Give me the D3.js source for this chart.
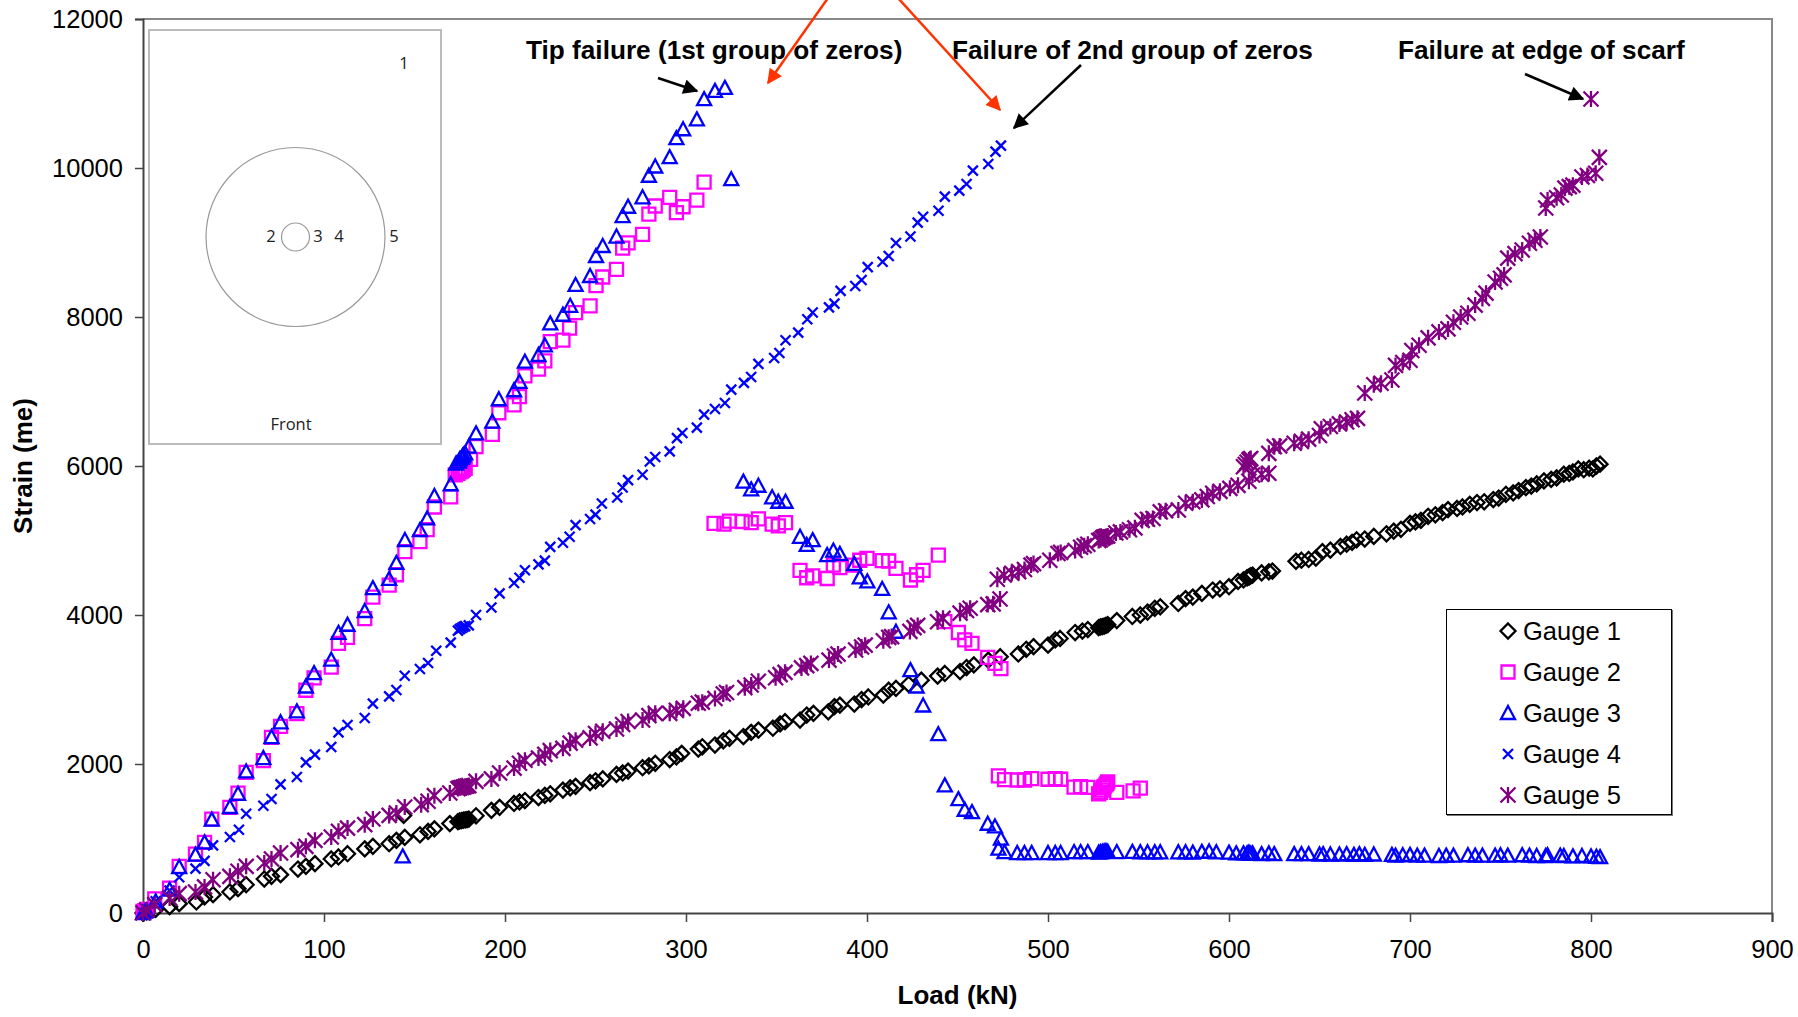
<!DOCTYPE html>
<html>
<head>
<meta charset="utf-8">
<script src="https://cdn.jsdelivr.net/npm/d3@7"></script>
<style>
  html, body { margin: 0; padding: 0; background: #fff; }
  svg { display: block; font-family: "Liberation Sans", Arial, sans-serif; }
</style>
</head>
<body>
<script>
const w = 1798;
const h = 1017;

const xTicks = [0, 100, 200, 300, 400, 500, 600, 700, 800, 900];
const yTicks = [0, 2000, 4000, 6000, 8000, 10000, 12000];
const seriesNames = ["Gauge 1", "Gauge 2", "Gauge 3", "Gauge 4", "Gauge 5"];
const notes = ["Tip failure (1st group of zeros)", "Failure of 2nd group of zeros", "Failure at edge of scarf"];

// [load kN, strain]
const gauge1 = [[0,0],[2,15],[7,50],[14.7,85],[20,125],[29.5,148],[34,215],[38.7,246],[48,282],[52.5,327],[57,380],[67,456],[71,492],[76,515],[85.6,590],[90,626],[95,662],[104,725],[108,752],[113,796],[122.5,860],[127,895],[136,930],[140,975],[144.6,1015],[144,1310],[153,1050],[157.5,1095],[161,1130],[169.5,1200],[174,1225],[175,1235],[176,1240],[177,1245],[178,1250],[179,1255],[180,1260],[184,1305],[192.5,1378],[197,1418],[205,1470],[208,1490],[211,1510],[218.5,1550],[222,1580],[225,1600],[232,1650],[236,1680],[239,1700],[247,1750],[250,1775],[254,1800],[261.6,1860],[265,1880],[268,1905],[276,1950],[279.5,1975],[283,2010],[291,2060],[294.7,2095],[297.6,2143],[306.8,2200],[309,2231],[316,2255],[320.6,2312],[324,2345],[331.7,2367],[336,2425],[340,2455],[348,2480],[352,2537],[354.7,2568],[363,2590],[366.7,2657],[370.4,2680],[378.6,2700],[382,2770],[385,2790],[393,2805],[397,2865],[400.7,2900],[409,2925],[412,2990],[416,3015],[423,3070],[430,3125],[439,3180],[443,3215],[451.4,3240],[455,3295],[459,3330],[467,3395],[473.6,3440],[483.6,3477],[488,3540],[492,3575],[500,3595],[504,3665],[506.7,3685],[515,3765],[519,3785],[522,3805],[528,3830],[529,3840],[530,3845],[531,3850],[532,3860],[533,3870],[538,3925],[546.6,3980],[551,4000],[555,4040],[559,4090],[562,4110],[572,4155],[576,4220],[580,4240],[585,4290],[591,4335],[595,4350],[600,4380],[605,4450],[608,4470],[610,4500],[611,4510],[611.5,4520],[612,4525],[613,4535],[618,4565],[622,4580],[624,4590],[637,4720],[640,4735],[644,4745],[648,4765],[651.6,4850],[656,4870],[661.6,4920],[665,4950],[668,4975],[670.5,5010],[675,5020],[680,5055],[687,5090],[691,5125],[695,5150],[700,5230],[703,5250],[706,5270],[710,5325],[714,5345],[718,5375],[721,5415],[726,5430],[729,5450],[733,5485],[737,5510],[741,5520],[746,5550],[749,5570],[753,5620],[757,5640],[760,5670],[764,5710],[767,5730],[770,5760],[774,5800],[778,5820],[781,5840],[785,5890],[788,5900],[790,5920],[793,5960],[796,5950],[799,5970],[801,5960],[803,6000],[805,6025]];

const gauge2 = [[0,20],[1,30],[2,50],[6.5,190],[14.7,335],[20,626],[29,790],[34,948],[38,1260],[48,1418],[52.5,1610],[57,1888],[66.5,2045],[71,2358],[76,2505],[85,2675],[90,2990],[94.5,3155],[104,3300],[108,3620],[113,3700],[122.5,3950],[127,4240],[136,4400],[140,4540],[144.7,4850],[153,4984],[157,5147],[161,5450],[170,5585],[172.5,5880],[174,5900],[175,5920],[176,5930],[176.5,5945],[177,5955],[178,5970],[181,6090],[184,6260],[193,6425],[196.6,6715],[205,6820],[208,6930],[211,7210],[218.5,7300],[222,7410],[225,7670],[232,7690],[235.7,7850],[239,8060],[247,8150],[250.3,8420],[254,8537],[261.6,8640],[265,8925],[268,8995],[276,9110],[279.5,9380],[283,9490],[291,9607],[294.7,9400],[298.4,9480],[306,9570],[310,9810],[315.5,5230],[321,5220],[324,5260],[331,5255],[336,5240],[340,5290],[347.6,5220],[351,5195],[355,5240],[363,4600],[366.7,4500],[370,4525],[378,4490],[381.4,4670],[385,4635],[393,4670],[396,4735],[400,4760],[408.4,4730],[412,4725],[416,4625],[424,4470],[427.4,4540],[431,4600],[439.4,4805],[443,3910],[450.5,3765],[454,3665],[458,3620],[466.7,3430],[470.7,3350],[474,3280],[472.6,1840],[476,1790],[483,1785],[487,1785],[491,1805],[500,1795],[504,1805],[507,1795],[514.4,1690],[518,1695],[522,1685],[528,1600],[529,1620],[530,1650],[530.5,1680],[531,1700],[532,1720],[532.5,1740],[533,1760],[538,1620],[547,1640],[551,1675]];

const gauge3 = [[0,0],[1,20],[2,30],[7,157],[14.7,313],[20,617],[29,783],[34,948],[38,1253],[48,1423],[52.5,1600],[57,1900],[66.5,2080],[71,2362],[76,2560],[85,2707],[90,3040],[94.5,3220],[104,3400],[108,3761],[113,3869],[122.5,4054],[127,4361],[136,4484],[140,4700],[143.5,760],[144.7,5007],[153,5140],[157,5296],[161,5597],[170,5755],[173,6033],[174.5,6060],[175,6090],[176,6110],[176.5,6130],[177,6150],[178,6170],[180,6260],[184,6438],[193,6595],[196.6,6896],[205,7017],[208,7130],[211,7400],[218.5,7490],[222,7620],[225,7915],[232,8030],[236,8150],[239,8430],[247,8550],[250.3,8819],[254,8953],[261.6,9080],[265,9355],[268,9480],[276,9607],[279.5,9896],[283,10020],[291,10145],[294.7,10400],[298.4,10520],[306,10653],[310,10925],[316,11035],[321.5,11075],[325,9850],[331.7,5790],[336,5687],[340,5735],[347.6,5580],[351,5520],[355,5520],[363,5050],[366.7,4940],[370,5005],[378,4805],[381.4,4865],[385,4820],[393,4685],[396,4505],[400.2,4450],[408.4,4350],[412,4036],[416,3775],[424,3260],[427.4,3040],[431,2785],[439.4,2400],[443,1713],[450.5,1528],[454,1386],[458,1355],[466.7,1198],[470.7,1162],[474,997],[472.6,863],[476,818],[483,805],[487,805],[491,805],[500,805],[504,805],[507,805],[514.4,818],[518,818],[522,818],[528,810],[529,815],[530,820],[531,825],[532,830],[533,820],[538,818],[546.6,820],[551,815],[555,815],[559,815],[562,815],[572,815],[576,815],[580,810],[585,820],[589,825],[593,815],[600,810],[604,800],[608,800],[610,800],[611,810],[612,795],[613,800],[618,790],[622,800],[625,790],[636,790],[640,790],[644,790],[650,785],[652,790],[656,785],[661,785],[665,790],[669,780],[672,790],[675,780],[680,785],[690,780],[692,770],[696,775],[700,780],[704,770],[708,770],[716,765],[720,770],[724,770],[732,775],[736,770],[740,770],[747,770],[750,775],[754,770],[762,775],[766,770],[770,765],[775,765],[776,775],[783,770],[785,765],[790,760],[795,765],[800,760],[803,755],[805,750]];

const gauge4 = [[0,0],[2,40],[7,157],[14.7,300],[20,480],[29,595],[34,700],[38.7,908],[48,1020],[53,1118],[57,1333],[66.5,1440],[71,1530],[76,1727],[85,1825],[90,2022],[95,2125],[104,2228],[108,2425],[113,2523],[122.5,2617],[127,2810],[136,2908],[140,2993],[144.6,3185],[153,3275],[157.5,3355],[162,3520],[170,3630],[174,3790],[175,3810],[176,3825],[177,3840],[178,3850],[180,3860],[184,4000],[192.5,4100],[197,4290],[205,4430],[208,4500],[211,4600],[218.5,4680],[222,4730],[225,4915],[232,4970],[235.7,5050],[239,5207],[247,5288],[250,5347],[253.5,5497],[262,5578],[265,5712],[268,5810],[276,5882],[280,6060],[283,6120],[291,6197],[295,6375],[298,6443],[306,6515],[310,6690],[316,6765],[321.5,6845],[325,7025],[332,7115],[336,7195],[340,7370],[348.7,7450],[351.6,7517],[355,7688],[362,7790],[367,7970],[370,8060],[379,8130],[382,8180],[385.4,8350],[393.5,8416],[397,8497],[400.4,8670],[408.6,8742],[412,8819],[416,8993],[424,9080],[428,9266],[431,9346],[439.5,9427],[443,9615],[451,9696],[455,9785],[458.5,9964],[467,10053],[471,10220],[474,10300]];

const gauge5 = [[0,0],[2,40],[6.5,112],[14.7,200],[20,260],[29,282],[34,350],[38.7,447],[48,492],[52.5,560],[57,626],[67,671],[71,725],[76,805],[85.6,850],[90,895],[95,975],[104,1020],[108,1096],[113,1140],[122.5,1186],[127,1262],[136,1310],[140,1342],[144.6,1423],[153.7,1454],[157.5,1500],[161,1575],[169.5,1610],[174,1670],[175,1680],[176,1685],[177,1690],[178,1700],[179,1705],[180,1710],[184,1767],[192.5,1800],[197,1880],[205,1945],[208,2010],[211,2050],[218.5,2080],[222,2130],[225,2180],[232,2210],[236,2280],[239,2320],[247,2350],[250,2410],[254,2440],[261.6,2470],[265,2530],[268,2570],[276,2590],[279.5,2650],[283,2680],[291,2680],[294.7,2720],[298.5,2747],[306.8,2815],[309,2830],[316,2880],[320.6,2940],[322.4,2960],[332.5,3025],[336,3060],[340,3110],[349.5,3158],[352,3200],[354.7,3230],[363.8,3290],[366.7,3320],[369,3350],[379,3395],[382,3450],[384,3475],[393.7,3530],[397,3570],[399,3595],[409,3655],[412,3700],[413.6,3710],[423.7,3780],[426,3830],[428,3860],[439,3910],[442,3955],[451.4,4025],[455,4060],[457,4090],[466.7,4140],[469.7,4150],[473.5,4215],[472,4480],[475.8,4537],[480,4560],[483.8,4582],[487,4610],[490.6,4670],[492,4690],[501,4735],[505.5,4825],[507,4840],[515,4865],[518,4910],[520,4930],[522,4950],[528,5000],[529,5010],[530,5030],[530.5,5040],[531,5047],[532,5055],[533,5060],[537.5,5100],[540,5115],[545,5145],[548,5170],[552,5270],[555,5285],[558,5295],[562,5385],[565,5400],[572,5410],[576,5500],[580,5520],[585,5545],[588,5590],[591,5635],[595,5660],[600.5,5700],[605,5740],[611,5795],[613,5880],[618,5890],[622,5903],[608,5990],[609,6020],[610,6050],[611,6080],[611.5,6090],[612,6100],[622,6170],[625,6260],[628,6270],[636,6305],[640,6330],[644,6360],[650,6410],[651,6500],[656,6530],[661,6565],[665,6590],[668,6620],[671,6640],[675,6980],[680,7090],[684,7110],[690,7155],[692,7350],[696,7390],[700,7420],[701,7550],[705,7620],[710,7720],[716,7800],[721,7840],[724,7930],[728,8000],[732,8050],[736,8160],[740,8250],[742,8320],[747,8470],[750,8520],[752,8565],[754,8790],[758,8850],[762,8900],[766,8990],[769,9030],[772,9073],[775,9463],[776,9570],[781,9600],[783.6,9637],[785.6,9730],[788,9750],[790,9770],[795,9880],[798,9900],[800,10926],[802.6,9930],[804.6,10143]];

const allGauges = [gauge1, gauge2, gauge3, gauge4, gauge5];
const colors = ["#000000", "#ff00ff", "#0000ff", "#0000ff", "#800080"];
const markers = [
  "M0,-7.5L7.5,0L0,7.5L-7.5,0Z",
  "M-6.5,-6.5H6.5V6.5H-6.5Z",
  "M0,-7L7,6H-7Z",
  "M-5,-5L5,5M-5,5L5,-5",
  "M-7.5,-7.5L7.5,7.5M-7.5,7.5L7.5,-7.5M0,-8V8",
];

const plotLeft = 143, plotRight = 1772, plotTop = 19, plotBottom = 913;

const svg = d3.select("body").append("svg").attr("width", w).attr("height", h);

const xScale = d3.scaleLinear().domain([0, 900]).range([plotLeft, plotRight]);
const yScale = d3.scaleLinear().domain([0, 12000]).range([plotBottom, plotTop]);

// plot frame, top and right are the lighter ones
svg.append("path")
  .attr("d", `M${plotLeft},${plotTop}H${plotRight}V${plotBottom}`)
  .attr("fill", "none")
  .attr("stroke", "#888")
  .attr("stroke-width", 2);

/* Inset drawing */
const inset = svg.append("g");
inset.append("rect")
  .attr("x", 149).attr("y", 30).attr("width", 292).attr("height", 414)
  .attr("fill", "#fff").attr("stroke", "#bbb").attr("stroke-width", 2);
inset.append("circle").attr("cx", 295.5).attr("cy", 237).attr("r", 89.5)
  .attr("fill", "none").attr("stroke", "#999").attr("stroke-width", 1.2);
inset.append("circle").attr("cx", 295.5).attr("cy", 237).attr("r", 14)
  .attr("fill", "none").attr("stroke", "#999").attr("stroke-width", 1.2);
[["1", 404, 69], ["2", 271, 242], ["3", 318, 242], ["4", 339, 242], ["5", 394, 242], ["Front", 291, 430]].forEach((t) => {
  inset.append("text")
    .attr("x", t[1]).attr("y", t[2])
    .attr("text-anchor", "middle")
    .attr("font-family", "'Open Sans', 'Noto Sans', sans-serif")
    .attr("font-size", 16.5)
    .attr("fill", "#222")
    .text(t[0]);
});

/* Axes */
const xAxis = d3.axisBottom(xScale).tickValues(xTicks).tickSize(9).tickFormat(d3.format("d"));
const yAxis = d3.axisLeft(yScale).tickValues(yTicks).tickSize(8).tickFormat(d3.format("d"));

const gx = svg.append("g").attr("transform", `translate(0, ${plotBottom})`).call(xAxis);
const gy = svg.append("g").attr("transform", `translate(${plotLeft}, 0)`).call(yAxis);

[gx, gy].forEach((g) => {
  g.select(".domain").attr("stroke", "#444").attr("stroke-width", 2);
  g.selectAll(".tick line").attr("stroke", "#444").attr("stroke-width", 1.5);
  g.selectAll(".tick text")
    .attr("font-family", '"Liberation Sans", Arial, sans-serif')
    .attr("font-size", 25.5)
    .attr("fill", "#000");
});
gx.selectAll(".tick text").attr("y", 27);
gy.selectAll(".tick text").attr("x", -20);

svg.append("text")
  .attr("x", (plotLeft + plotRight) / 2).attr("y", 1004)
  .attr("text-anchor", "middle")
  .attr("font-size", 26).attr("font-weight", "bold")
  .text("Load (kN)");

svg.append("text")
  .attr("transform", `translate(32, ${(plotTop + plotBottom) / 2}) rotate(-90)`)
  .attr("text-anchor", "middle")
  .attr("font-size", 26).attr("font-weight", "bold")
  .text("Strain (me)");

/* Data */
allGauges.forEach((gauge, i) => {
  svg.append("g")
    .selectAll("path")
    .data(gauge)
    .join("path")
    .attr("d", markers[i])
    .attr("transform", (d) => `translate(${xScale(d[0])}, ${yScale(d[1])})`)
    .attr("fill", "none")
    .attr("stroke", colors[i])
    .attr("stroke-width", 2.3);
});

/* Notes and arrows */
const defs = svg.append("defs");
[["headBlack", "#000"], ["headRed", "#ff3300"]].forEach((m) => {
  defs.append("marker")
    .attr("id", m[0])
    .attr("viewBox", "0 0 10 10")
    .attr("refX", 9).attr("refY", 5)
    .attr("markerWidth", 17).attr("markerHeight", 15)
    .attr("markerUnits", "userSpaceOnUse")
    .attr("orient", "auto")
    .append("path").attr("d", "M0,0L10,5L0,10Z").attr("fill", m[1]);
});

[[526, 59], [952, 59], [1398, 59]].forEach((p, i) => {
  svg.append("text")
    .attr("x", p[0]).attr("y", p[1])
    .attr("font-size", 26.2).attr("font-weight", "bold")
    .text(notes[i]);
});

[
  [658, 78, 697, 91, "headBlack", "#000"],
  [1081, 65, 1014, 128, "headBlack", "#000"],
  [1525, 74, 1583, 99, "headBlack", "#000"],
  [828, -2, 768, 83, "headRed", "#ff3300"],
  [898, -2, 1000, 110, "headRed", "#ff3300"],
].forEach((a) => {
  svg.append("line")
    .attr("x1", a[0]).attr("y1", a[1]).attr("x2", a[2]).attr("y2", a[3])
    .attr("stroke", a[5]).attr("stroke-width", 2.5)
    .attr("marker-end", `url(#${a[4]})`);
});

/* Legend */
const legend = svg.append("g");
legend.append("path")
  .attr("d", "M1672,610V815H1447")
  .attr("fill", "none").attr("stroke", "#777").attr("stroke-width", 2);
legend.append("rect")
  .attr("x", 1446.5).attr("y", 609.5).attr("width", 225).attr("height", 205)
  .attr("fill", "#fff").attr("stroke", "#000").attr("stroke-width", 1);

const legendRow = d3.scalePoint().domain(seriesNames).range([631, 795]);
seriesNames.forEach((name, i) => {
  legend.append("path")
    .attr("d", markers[i])
    .attr("transform", `translate(1508, ${legendRow(name)})`)
    .attr("fill", "none")
    .attr("stroke", colors[i])
    .attr("stroke-width", 2.3);
  legend.append("text")
    .attr("x", 1523).attr("y", legendRow(name) + 9)
    .attr("font-size", 25.5)
    .text(name);
});
</script>
</body>
</html>
